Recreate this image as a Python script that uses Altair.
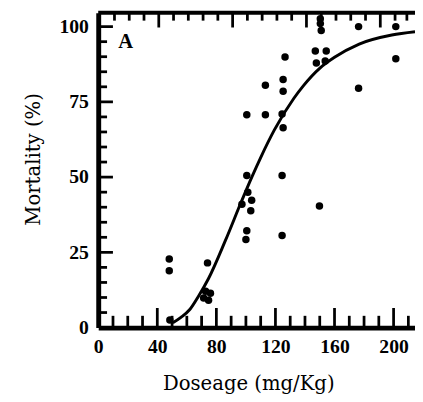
import altair as alt
import pandas as pd

# observed points (dose mg/Kg, mortality %)
dose = [48.1, 48.1, 48.5, 74.0, 72.7, 76.0, 71.4, 74.7,
        97.3, 100.6, 100.6, 101.3, 103.9, 103.3, 100.6, 100.0,
        113.2, 113.2, 125.2, 125.2, 124.5, 125.2, 124.5, 124.5, 126.5,
        150.4, 150.4, 151.0, 147.0, 154.4, 147.7, 153.7, 149.8,
        176.3, 176.3, 201.5, 201.5]
mort = [22.8, 18.9, 2.5, 21.5, 12.1, 11.4, 9.8, 9.1,
        41.0, 70.7, 50.5, 45.0, 42.3, 38.8, 32.2, 29.3,
        80.5, 70.7, 82.4, 78.5, 71.0, 66.4, 50.5, 30.6, 89.9,
        102.6, 101.0, 98.7, 91.9, 91.9, 87.9, 88.6, 40.4,
        100.0, 79.5, 100.0, 89.3]

# fitted curve
curve_dose = [50.5, 56, 62, 68, 74.7, 86, 97.3, 104, 110, 119.2, 132.5, 139, 150.3, 160, 176.7, 198.8, 214.5]
curve_mort = [1.6, 3.4, 6.0, 10.5, 16.3, 28.8, 42.3, 50, 56.5, 65.6, 76.2, 80.4, 86.3, 89.8, 94.2, 97.2, 98.3]

x_labels = [0, 40, 80, 120, 160, 200]
y_labels = [0, 25, 50, 75, 100]
bottom_major = [40, 80, 120, 160, 200]
bottom_minor = [10, 20, 30, 50, 60, 70, 90, 100, 110, 130, 140, 150, 170, 180, 190, 210]
left_major = [25, 50, 75, 100]
left_minor = [5, 10, 15, 20, 30, 35, 40, 45, 55, 60, 65, 70, 80, 85, 90, 95]
top_major = [41, 91, 141, 191]
top_minor = [11, 21, 31, 51, 61, 71, 81, 101, 111, 121, 131, 151, 161, 171, 181, 201, 209]

panel_label = ["A"]
panel_pos = [(18.6, 94.8)]

W, H = 323, 321

xs = alt.Scale(domain=[0, 214.5], nice=False, zero=False)
ys = alt.Scale(domain=[0, 104.6], nice=False, zero=False)

x_axis = alt.Axis(values=x_labels, title="Doseage (mg/Kg)", ticks=False, tickSize=0, grid=False,
                  domainWidth=5, domainColor="black",
                  labelFont="Liberation Serif", labelFontWeight="bold", labelFontSize=20,
                  labelColor="black", labelPadding=9, labelFlush=False, labelOverlap=False,
                  titleFont="DejaVu Serif", titleFontSize=20, titleFontWeight="normal",
                  titleColor="black", titleX=153, titleY=63, titleBaseline="alphabetic",
                  titleAlign="center")
y_axis = alt.Axis(values=y_labels, title="Mortality (%)", ticks=False, tickSize=0, grid=False,
                  domainWidth=5, domainColor="black",
                  labelFont="Liberation Serif", labelFontWeight="bold", labelFontSize=20,
                  labelColor="black", labelPadding=10, labelFlush=False, labelOverlap=False,
                  titleFont="DejaVu Serif", titleFontSize=20, titleFontWeight="normal",
                  titleColor="black", titleX=-66, titleY=149, titleAngle=-90,
                  titleBaseline="middle", titleAlign="center")


def X():
    return alt.X("dose:Q", scale=xs, axis=x_axis)


def Y():
    return alt.Y("mort:Q", scale=ys, axis=y_axis)


pts = pd.DataFrame({"dose": dose, "mort": mort})
crv = pd.DataFrame({"dose": curve_dose, "mort": curve_mort})

curve = alt.Chart(crv).mark_line(color="black", strokeWidth=3, interpolate="monotone").encode(x=X(), y=Y())
points = alt.Chart(pts).mark_circle(color="black", opacity=1, size=58).encode(x=X(), y=Y())


def xticks(vals, y0, y1):
    return alt.Chart(pd.DataFrame({"dose": vals})).mark_rule(color="black", strokeWidth=2.8).encode(
        x=X(), y=alt.value(y0), y2=alt.value(y1))


def yticks(vals, x0, x1):
    return alt.Chart(pd.DataFrame({"mort": vals})).mark_rule(color="black", strokeWidth=2.8).encode(
        y=Y(), x=alt.value(x0), x2=alt.value(x1))


top_line = alt.Chart(pd.DataFrame({"k": [0]})).mark_rule(color="black", strokeWidth=4).encode(
    x=alt.value(0), x2=alt.value(W), y=alt.value(0))

lab = pd.DataFrame({"dose": [p[0] for p in panel_pos], "mort": [p[1] for p in panel_pos], "t": panel_label})
label = alt.Chart(lab).mark_text(font="Liberation Serif", fontWeight="bold", fontSize=21,
                                 color="black", align="center", baseline="middle").encode(
    x=X(), y=Y(), text="t:N")

chart = alt.layer(
    top_line,
    xticks(bottom_major, H, H - 20),
    xticks(bottom_minor, H, H - 12),
    xticks(top_major, 0, 15),
    xticks(top_minor, 0, 8),
    yticks(left_major, 0, 15),
    yticks(left_minor, 0, 9),
    curve,
    points,
    label,
).properties(
    width=W, height=H,
    autosize=alt.AutoSizeParams(type="none"),
    padding={"left": 92, "top": 1, "right": 0, "bottom": 72},
    background="white",
).configure_view(stroke=None)

chart.save("out.html", embed_options={"renderer": "svg", "actions": False})
